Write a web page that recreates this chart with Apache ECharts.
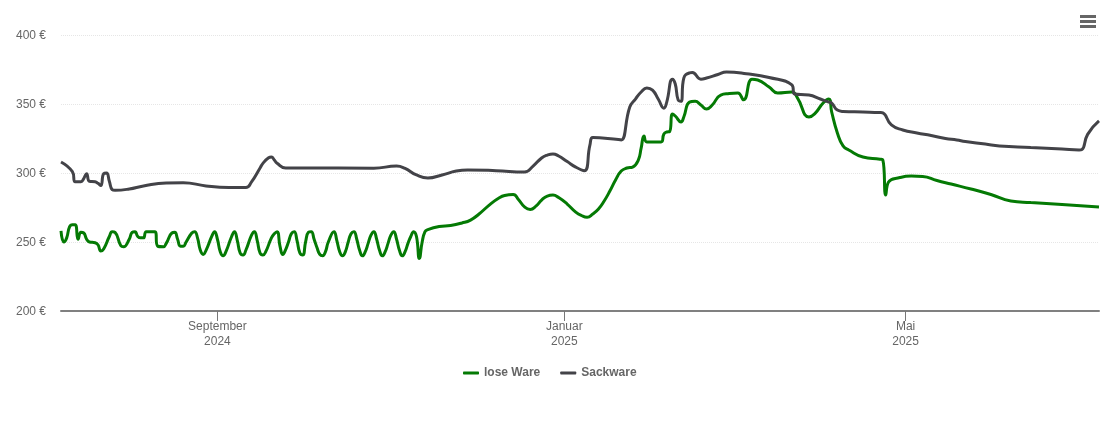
<!DOCTYPE html>
<html>
<head>
<meta charset="utf-8">
<title>Preisentwicklung</title>
<script src="https://cdn.jsdelivr.net/npm/echarts@6/dist/echarts.min.js"></script>
<style>
  html, body { margin: 0; padding: 0; background: #fff; }
  #chart { width: 1110px; height: 422px; }
</style>
</head>
<body>
<div id="chart"></div>
<script>
var seriesNames = ['lose Ware', 'Sackware'];
var tickDates = ['2024-09-01', '2025-01-01', '2025-05-01'];
var tickLabels = ['September\n2024', 'Januar\n2025', 'Mai\n2025'];
var yTicks = [200, 250, 300, 350, 400];

// lose Ware
var looseDates = [
  '2024-07-08','2024-07-09','2024-07-10','2024-07-11','2024-07-12','2024-07-13','2024-07-14','2024-07-15','2024-07-16','2024-07-17',
  '2024-07-18','2024-07-20','2024-07-21','2024-07-22','2024-07-23','2024-07-25','2024-07-26','2024-07-27','2024-07-29','2024-07-30',
  '2024-08-01','2024-08-02','2024-08-03','2024-08-04','2024-08-05','2024-08-06','2024-08-07','2024-08-10','2024-08-11','2024-08-13',
  '2024-08-14','2024-08-16','2024-08-17','2024-08-18','2024-08-19','2024-08-20','2024-08-21','2024-08-23','2024-08-24','2024-08-25',
  '2024-08-26','2024-08-27','2024-08-28','2024-08-30','2024-08-31','2024-09-01','2024-09-02','2024-09-03','2024-09-04','2024-09-06',
  '2024-09-07','2024-09-08','2024-09-09','2024-09-10','2024-09-11','2024-09-13','2024-09-14','2024-09-15','2024-09-16','2024-09-17',
  '2024-09-18','2024-09-20','2024-09-21','2024-09-22','2024-09-23','2024-09-24','2024-09-25','2024-09-26','2024-09-27','2024-09-28',
  '2024-09-29','2024-09-30','2024-10-01','2024-10-02','2024-10-03','2024-10-04','2024-10-05','2024-10-06','2024-10-07','2024-10-08',
  '2024-10-09','2024-10-10','2024-10-12','2024-10-13','2024-10-14','2024-10-15','2024-10-16','2024-10-17','2024-10-18','2024-10-19',
  '2024-10-20','2024-10-21','2024-10-22','2024-10-23','2024-10-24','2024-10-25','2024-10-26','2024-10-27','2024-10-28','2024-10-29',
  '2024-10-30','2024-10-31','2024-11-01','2024-11-02','2024-11-03','2024-11-04','2024-11-05','2024-11-06','2024-11-07','2024-11-08',
  '2024-11-09','2024-11-10','2024-11-11','2024-11-12','2024-11-13','2024-11-14','2024-11-18','2024-11-22','2024-11-26','2024-11-29',
  '2024-12-02','2024-12-06','2024-12-09','2024-12-11','2024-12-14','2024-12-16','2024-12-18','2024-12-20','2024-12-22','2024-12-24',
  '2024-12-26','2024-12-28','2024-12-30','2025-01-02','2025-01-05','2025-01-07','2025-01-09','2025-01-11','2025-01-13','2025-01-15',
  '2025-01-17','2025-01-19','2025-01-21','2025-01-23','2025-01-25','2025-01-27','2025-01-28',
  '2025-01-29','2025-01-30','2025-02-04','2025-02-05','2025-02-06','2025-02-07','2025-02-08','2025-02-09','2025-02-11','2025-02-12',
  '2025-02-14','2025-02-16','2025-02-18','2025-02-20','2025-02-22','2025-02-25','2025-02-28','2025-03-03','2025-03-05','2025-03-08',
  '2025-03-10','2025-03-14','2025-03-17','2025-03-22','2025-03-24','2025-03-28','2025-03-30','2025-04-02','2025-04-04','2025-04-05',
  '2025-04-07','2025-04-09','2025-04-11','2025-04-16','2025-04-22','2025-04-23','2025-04-24','2025-04-25','2025-04-29','2025-05-03',
  '2025-05-07','2025-05-12','2025-05-17','2025-05-24','2025-05-31','2025-06-07','2025-06-14','2025-06-25','2025-07-08'
];
var looseValues = [
  258,250,253,261,262.5,262.5,252,257,256.5,252,
  250,249.5,248,243.5,245,254,257.5,257,247.5,246.5,
  252,257,257.5,254,253,253,257.5,257.5,247,246.5,
  249,256.5,257,252,247,247,250,256.5,257.5,253,
  244,241,244,254,257.5,252,243,240,243,254,
  257.5,251,242,240.5,244,255,257.5,251,242,240.5,
  243,253,256,257.5,247,241,244.5,250,256,257.5,
  251,242,240.5,250,257,257.5,252,246,241,240,
  243,250,257.5,251,243,240,243,250,256,257.5,
  252,244,240,243,249,255,257.5,252,244,240,
  243,249,255,257.5,252,244,240,243,249,254,
  257.5,254,238,250,257.5,259,261.2,262,263.8,265.9,
  270.3,277.5,281.9,283.7,284.4,280.4,275.4,273.6,276,280.4,
  283.3,284,282.2,277.5,271.7,269.2,268,270.3,273.9,279.7,
  286.9,294.9,301.4,303.6,304.3,309.4,318,
  326.8,322.5,322.5,328.3,329.7,330,342.8,341.3,337,340.6,
  351.4,352,349.3,346.4,349.3,356.5,357.6,358,353,368,
  367.4,362.3,358,358.7,354.3,340.6,342.8,350.7,353.6,344.2,
  329,319.6,316.7,311.6,310,309.4,284,293.5,296.7,297.8,
  297.5,294.6,292,288.4,284.4,279.7,278.6,277.2,275.4
];

// Sackware
var bagDates = [
  '2024-07-08','2024-07-12','2024-07-13','2024-07-15','2024-07-16','2024-07-17','2024-07-18','2024-07-20','2024-07-21','2024-07-22',
  '2024-07-23','2024-07-24','2024-07-25','2024-07-26','2024-07-27','2024-08-01','2024-08-06','2024-08-14','2024-08-20','2024-08-28',
  '2024-09-05','2024-09-11','2024-09-13','2024-09-16','2024-09-17','2024-09-19','2024-09-20','2024-09-21','2024-09-22','2024-09-25',
  '2024-10-01','2024-10-26','2024-11-03','2024-11-06','2024-11-10','2024-11-14','2024-11-19','2024-11-24','2024-11-28','2024-12-08',
  '2024-12-18','2024-12-21','2024-12-24','2024-12-26','2024-12-28','2024-12-30','2025-01-02','2025-01-05','2025-01-08','2025-01-10','2025-01-11','2025-01-20',
  '2025-01-21','2025-01-24','2025-01-26','2025-01-28','2025-01-30','2025-02-01','2025-02-03','2025-02-05','2025-02-06','2025-02-08',
  '2025-02-09','2025-02-10','2025-02-11','2025-02-12','2025-02-14','2025-02-15','2025-02-18','2025-02-20','2025-02-24','2025-02-27',
  '2025-03-06','2025-03-14','2025-03-22','2025-03-23','2025-03-28','2025-04-01','2025-04-04','2025-04-05','2025-04-07','2025-04-09',
  '2025-04-16','2025-04-22','2025-04-23','2025-04-26','2025-04-30','2025-05-05','2025-05-10','2025-05-15','2025-05-19','2025-05-22',
  '2025-05-29','2025-06-03','2025-06-14','2025-06-25','2025-07-01','2025-07-02','2025-07-04','2025-07-08'
];
var bagValues = [
  308,301,293.7,293.7,296,299.5,294,293.7,292.5,291,
  299.5,300,294,288,287.5,288.4,290.6,292.8,293,290.6,
  289.5,289.5,293.5,303.6,307,311,311.6,309.4,307,303.6,
  303.6,303.5,305,303.3,298.6,296.4,298.6,301.4,302.2,301.7,
  300.7,305,310.9,313,313.8,312.3,308.3,304.3,301.7,320.3,325.7,324.3,
  324,347.8,353.6,358.7,361.6,360,353.6,347,351.4,368,
  364.5,353,352,368.8,372.5,372.8,368,368.8,371.4,373.2,
  372,369.2,363.8,357.2,356.5,353.6,351.4,350.7,345.6,344.6,
  344.2,343.8,343.5,334.8,331.2,329,327.2,325,323.9,322.8,
  321,319.6,318.5,317.4,316.7,317,328,337.7
];

function toTime(d) {
    return +echarts.time.parse(d);
}

// datum-wert paare, x achse rechnet in millisekunden
function toPoints(dates, values) {
    var arr = [];
    for (var i = 0; i < dates.length; i++) {
        arr.push([toTime(dates[i]), values[i]]);
    }
    return arr;
}

var tickTimes = tickDates.map(toTime);

var chart = echarts.init(document.getElementById('chart'));
chart.setOption({
    animation: false,
    textStyle: { fontFamily: '"Liberation Sans", Arial, sans-serif' },
    grid: { left: 61, right: 11, top: 35, bottom: 111 },
    tooltip: { trigger: 'axis', axisPointer: { label: { show: false } } },
    toolbox: {
        right: 14,
        top: 15,
        padding: 0,
        itemSize: 16,
        feature: {
            myMenu: {
                show: true,
                title: '',
                icon: 'path://M0,0H16V3H0Z M0,5H16V8H0Z M0,10H16V13H0Z',
                iconStyle: { color: '#666', borderWidth: 0 },
                onclick: function () {}
            }
        }
    },
    legend: {
        left: 458,
        top: 362,
        itemWidth: 16,
        itemHeight: 3,
        itemGap: 20,
        icon: 'roundRect',
        textStyle: { color: '#666', fontSize: 12, fontWeight: 'bold' },
        data: seriesNames
    },
    xAxis: {
        type: 'value',
        min: toTime('2024-07-08'),
        max: toTime('2025-07-08'),
        axisLine: { onZero: false, lineStyle: { color: '#808080', width: 2 } },
        axisTick: { length: 10, lineStyle: { color: '#777' }, customValues: tickTimes },
        axisLabel: {
            color: '#666',
            fontSize: 12,
            lineHeight: 15,
            margin: 8,
            customValues: tickTimes,
            formatter: function (value) {
                return tickLabels[tickTimes.indexOf(value)] || '';
            }
        },
        splitLine: { show: false }
    },
    yAxis: {
        type: 'value',
        min: yTicks[0],
        max: yTicks[yTicks.length - 1],
        interval: 50,
        axisLine: { show: false },
        axisTick: { show: false },
        axisLabel: {
            color: '#666',
            fontSize: 12,
            margin: 15,
            formatter: '{a|{value} €}',
            rich: { a: { color: '#666', fontSize: 12, padding: [2, 0, 0, 0] } }
        },
        splitLine: { lineStyle: { color: '#e6e6e6', type: 'dotted', width: 1 } }
    },
    series: [
        {
            name: seriesNames[0],
            type: 'line',
            data: toPoints(looseDates, looseValues),
            smooth: 0.5,
            showSymbol: false,
            itemStyle: { color: '#047a04' },
            lineStyle: { color: '#047a04', width: 3 }
        },
        {
            name: seriesNames[1],
            type: 'line',
            data: toPoints(bagDates, bagValues),
            smooth: 0.5,
            showSymbol: false,
            itemStyle: { color: '#434348' },
            lineStyle: { color: '#434348', width: 3 }
        }
    ]
});
</script>
</body>
</html>
